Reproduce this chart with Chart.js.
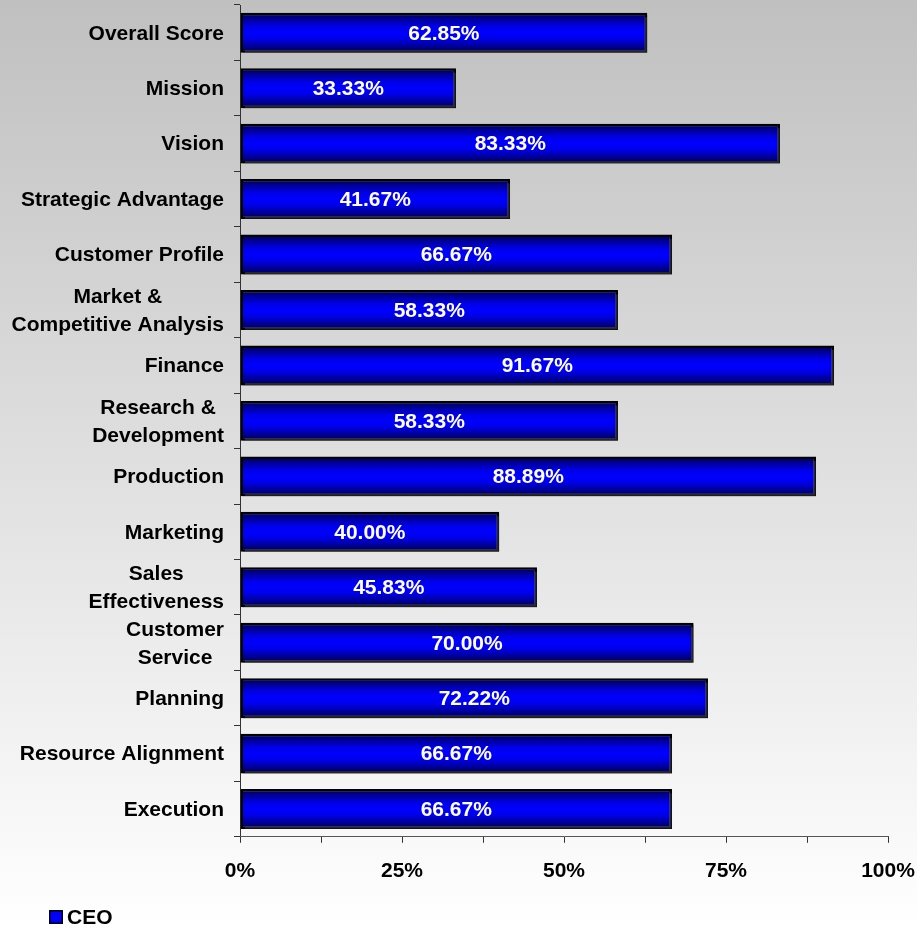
<!DOCTYPE html>
<html>
<head>
<meta charset="utf-8">
<script src="https://cdn.jsdelivr.net/npm/chart.js@4.4.1/dist/chart.umd.min.js"></script>
<style>
  html, body { margin: 0; padding: 0; background: #fff; }
  #wrap { width: 917px; height: 928px; position: relative; }
</style>
</head>
<body>
<div id="wrap"><canvas id="scoreChart"></canvas></div>
<script>
// Chart data
const categories = [
    ['Overall Score'],
    ['Mission'],
    ['Vision'],
    ['Strategic Advantage'],
    ['Customer Profile'],
    ['Market &', 'Competitive Analysis'],
    ['Finance'],
    ['Research &', 'Development'],
    ['Production'],
    ['Marketing'],
    ['Sales', 'Effectiveness'],
    ['Customer', 'Service'],
    ['Planning'],
    ['Resource Alignment'],
    ['Execution']
];
const ceoScores = [62.85, 33.33, 83.33, 41.67, 66.67, 58.33, 91.67, 58.33, 88.89, 40.00, 45.83, 70.00, 72.22, 66.67, 66.67];
const seriesName = 'CEO';
const xTickValues = [0, 25, 50, 75, 100];

const FONT = '"Liberation Sans", Arial, sans-serif';
const BAR_PCT = 0.72;

// Grey-to-white page background
const backgroundPlugin = {
    id: 'pageBackground',
    beforeDraw(chart) {
        const { ctx, width, height } = chart;
        const g = ctx.createLinearGradient(0, 0, 0, height);
        g.addColorStop(0, '#c0c0c0');
        g.addColorStop(1, '#ffffff');
        ctx.save();
        ctx.fillStyle = g;
        ctx.fillRect(0, 0, width, height);
        ctx.restore();
    }
};

// Drop shadow under the bars
const shadowPlugin = {
    id: 'barShadow',
    beforeDatasetsDraw(chart) {
        const ctx = chart.ctx;
        ctx.save();
        ctx.shadowColor = 'rgba(70,70,70,0.55)';
        ctx.shadowOffsetX = 2;
        ctx.shadowOffsetY = 2;
        ctx.shadowBlur = 0;
    },
    afterDatasetsDraw(chart) {
        chart.ctx.restore();
    }
};

// Value labels, category labels, legend
const labelPlugin = {
    id: 'textLabels',
    afterDraw(chart) {
        const ctx = chart.ctx;
        const meta = chart.getDatasetMeta(0);
        const yScale = chart.scales.y;
        ctx.save();
        ctx.font = 'bold 21px ' + FONT;
        ctx.textBaseline = 'middle';

        // values inside the bars
        ctx.fillStyle = '#ffffff';
        ctx.textAlign = 'center';
        meta.data.forEach((bar, i) => {
            const cx = (bar.x + bar.base) / 2;
            ctx.fillText(ceoScores[i].toFixed(2) + '%', cx, bar.y + 1);
        });

        // category labels: block right-aligned, lines centred
        ctx.fillStyle = '#000000';
        const rightEdge = yScale.right - 16;
        const lineH = 28;
        categories.forEach((lines, i) => {
            const cy = yScale.getPixelForValue(i);
            const maxW = Math.max(...lines.map(l => ctx.measureText(l).width));
            const cx = rightEdge - maxW / 2;
            lines.forEach((l, k) => {
                const ly = cy + (k - (lines.length - 1) / 2) * lineH + 1;
                ctx.fillText(l, cx, ly);
            });
        });

        // legend
        ctx.fillStyle = '#0000ff';
        ctx.fillRect(49, 910, 14, 14);
        ctx.strokeStyle = '#000000';
        ctx.lineWidth = 1.5;
        ctx.strokeRect(49.75, 910.75, 12.5, 12.5);
        ctx.fillStyle = '#000000';
        ctx.textAlign = 'left';
        ctx.fillText(seriesName, 67, 918);
        ctx.restore();
    }
};

function barGradient(context) {
    const chart = context.chart;
    const yScale = chart.scales.y;
    if (!yScale || context.dataIndex === undefined) return '#0000ff';
    const cy = yScale.getPixelForValue(context.dataIndex);
    const half = (yScale.height / categories.length) * BAR_PCT / 2;
    if (!isFinite(cy) || !isFinite(half) || half <= 0) return '#0000ff';
    const g = chart.ctx.createLinearGradient(0, cy - half, 0, cy + half);
    g.addColorStop(0, '#000050');
    g.addColorStop(0.35, '#0000ea');
    g.addColorStop(0.5, '#0000ff');
    g.addColorStop(0.65, '#0000ea');
    g.addColorStop(1, '#000050');
    return g;
}

new Chart(document.getElementById('scoreChart'), {
    type: 'bar',
    data: {
        labels: categories,
        datasets: [{
            label: seriesName,
            data: ceoScores,
            backgroundColor: barGradient,
            borderColor: '#000000',
            borderWidth: 2.5,
            borderSkipped: false,
            barPercentage: BAR_PCT,
            categoryPercentage: 1.0
        }]
    },
    options: {
        indexAxis: 'y',
        responsive: true,
        maintainAspectRatio: false,
        animation: false,
        layout: { padding: { top: 5, right: 29, bottom: 28, left: 0 } },
        plugins: {
            legend: { display: false },
            tooltip: { enabled: false }
        },
        scales: {
            y: {
                offset: true,
                afterFit: (scale) => { scale.width = 240; },
                grid: {
                    offset: true,
                    drawOnChartArea: false,
                    tickLength: 6,
                    color: '#333333'
                },
                border: { display: true, color: '#333333', width: 1 },
                ticks: { display: false }
            },
            x: {
                min: 0,
                max: 100,
                afterFit: (scale) => { scale.paddingLeft = 0; scale.paddingRight = 0; },
                grid: {
                    drawOnChartArea: false,
                    tickLength: 6,
                    color: '#333333'
                },
                border: { display: true, color: '#555555', width: 1 },
                ticks: {
                    stepSize: 12.5,
                    autoSkip: false,
                    maxRotation: 0,
                    padding: 16,
                    color: '#000000',
                    font: { family: FONT, size: 21, weight: 'bold' },
                    callback: (v) => xTickValues.includes(v) ? v + '%' : ''
                }
            }
        }
    },
    plugins: [backgroundPlugin, shadowPlugin, labelPlugin]
});
</script>
</body>
</html>
